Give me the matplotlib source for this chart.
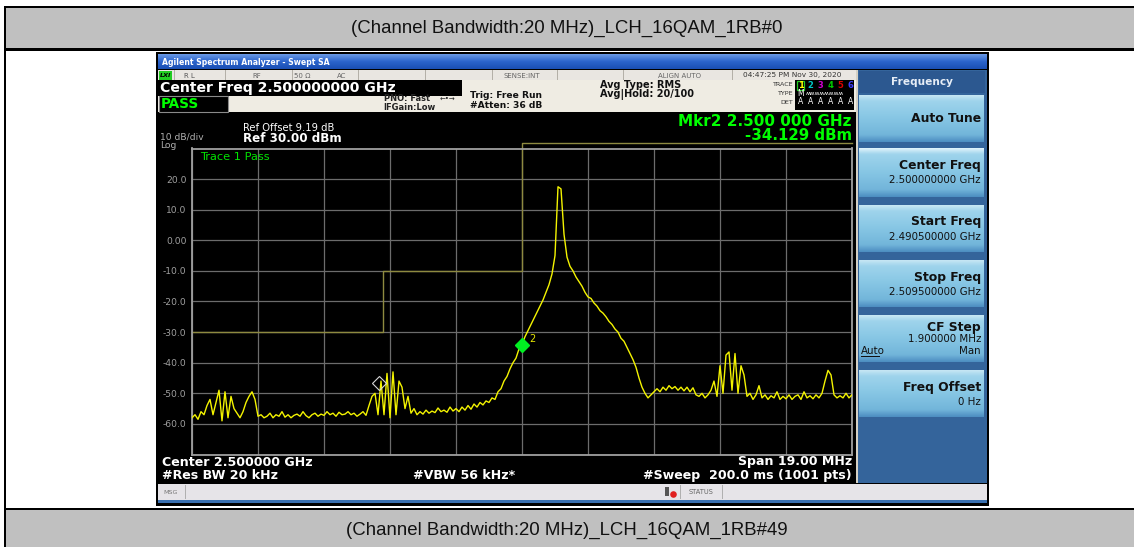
import numpy as np
import matplotlib
matplotlib.use('Agg')
import matplotlib.pyplot as plt
from matplotlib.patches import Rectangle, Circle

# ---------------- data ----------------
start_ghz = 2.4905
stop_ghz = 2.5095
y_tick_values = [30, 20, 10, 0, -10, -20, -30, -40, -50, -60, -70]
y_tick_labels = ['', '20.0', '10.0', '0.00', '-10.0', '-20.0', '-30.0', '-40.0', '-50.0', '-60.0', '']

trace_dbm = [
    -58, -57, -58.5, -56, -57, -54, -52, -57, -53, -49, -59, -49.5, -58, -51, -55,
    -56.5, -58, -56, -53, -51, -49.5, -52, -57.5,
    -57, -58, -57.5, -56.5, -58, -57, -57.5, -56, -57.8, -57, -58, -57.2, -56.8, -57.5, -56,
    -57.3, -58, -57, -56.5, -57.5, -56.8, -57.2, -56, -57, -56.5, -57.5, -56.2, -57, -56.8,
    -56, -57, -56.5, -57.5, -56.8, -56, -57.2,
    -54, -51, -50, -57, -46, -57, -43.5, -58, -43, -57, -46, -48, -55, -51,
    -56.5, -55, -57, -56, -56.8, -55.5, -56.5, -55.8, -56.3, -54.8, -56, -55.5, -56.2, -54.5,
    -55.8, -55, -56, -54.5, -55.5, -54, -55.2, -53.5, -54.5, -53, -53.8, -52.5, -53, -51.5,
    -52, -49.5, -48.5, -46, -44.5, -42, -40,
    -38.5, -35.5, -34.129, -31.5, -29.5, -27.5, -25.5, -23.5, -21.5, -19.5, -17, -14.5, -11,
    -5, 17.5, 16.8, 2, -5.5, -8.5, -10, -12, -13.5, -15,
    -17, -18.5, -19, -20.5, -21.5, -23, -23.8, -25, -26.5, -27.5, -29, -30, -32, -33, -35,
    -37, -39, -41.5, -45, -48, -50, -51.5,
    -50.5, -49.5, -48.5, -49.5, -48, -49, -47.5, -48.5, -47.8, -49, -48, -49.2, -48, -49.5,
    -48.2, -50.5, -51, -50, -51.5, -50.5,
    -49, -46, -51, -41, -50, -37.5, -36.5, -49, -37, -50, -41, -44, -51,
    -50, -52, -50.5, -47.5, -51.5, -50.5, -52, -50.8, -51.5, -49.5, -52, -51, -51.8, -50.5,
    -52, -51, -50.5, -52, -49.5, -51.5, -50.8, -51.8, -50.5, -51.5, -50, -46, -42.5, -44,
    -50.5, -51.5, -50.8, -51.5, -50, -51.5, -50.5,
]

limit_freq = [2.4905, 2.4960, 2.4960, 2.5000, 2.5000, 2.5095]
limit_dbm = [-30, -30, -10, -10, 31.7, 31.7]

mkr1_freq, mkr1_dbm = 2.49588, -46.5
mkr2_freq, mkr2_dbm = 2.5000, -34.129

header_top = "(Channel Bandwidth:20 MHz)_LCH_16QAM_1RB#0"
header_bottom = "(Channel Bandwidth:20 MHz)_LCH_16QAM_1RB#49"

softkeys = [
    ("Auto Tune", None),
    ("Center Freq", "2.500000000 GHz"),
    ("Start Freq", "2.490500000 GHz"),
    ("Stop Freq", "2.509500000 GHz"),
    ("CF Step", "1.900000 MHz"),
    ("Freq Offset", "0 Hz"),
]

# ---------------- figure ----------------
plt.rcParams['font.family'] = ['DejaVu Sans']
W, H = 1134, 547
fig = plt.figure(figsize=(W / 100, H / 100), dpi=100)
fig.patch.set_facecolor('white')
bg = fig.add_axes([0, 0, 1, 1])
bg.set_xlim(0, W)
bg.set_ylim(H, 0)
bg.axis('off')


def rect(x0, y0, x1, y1, fc, ec='none', lw=0, z=1):
    bg.add_patch(Rectangle((x0, y0), x1 - x0, y1 - y0, facecolor=fc,
                           edgecolor=ec, linewidth=lw, zorder=z))


def txt(x, y, s, size, color='black', ha='left', weight='normal',
        family='DejaVu Sans', va='center', top=False, **kw):
    if top:
        fig.text(x, y, s, fontsize=size, color=color, ha=ha, va=va,
                 fontweight=weight, family=family, transform=bg.transData,
                 zorder=10, **kw)
    else:
        bg.text(x, y, s, fontsize=size, color=color, ha=ha, va=va,
                fontweight=weight, family=family, zorder=5, **kw)


def hexrgb(c):
    c = c.lstrip('#')
    return [int(c[i:i + 2], 16) / 255 for i in (0, 2, 4)]


def grad(x0, y0, x1, y1, stops, z=2):
    pos = [p for p, _ in stops]
    cols = np.array([hexrgb(c) for _, c in stops])
    t = np.linspace(0, 1, 64)
    arr = np.stack([np.interp(t, pos, cols[:, k]) for k in range(3)], axis=1)
    arr = arr[:, None, :]
    bg.imshow(arr, extent=(x0, x1, y1, y0), aspect='auto',
              interpolation='bilinear', zorder=z)


# document table
rect(4, 6, 1134, 8, 'black')
rect(6, 8, 1134, 48, '#c0c0c0')
rect(4, 48, 1134, 50.5, 'black')
rect(4, 507.5, 1134, 510, 'black')
rect(6, 510, 1134, 547, '#c0c0c0')
rect(4, 6, 6.2, 547, 'black')
txt(567, 28.5, header_top, 13.4, '#111111', ha='center', family='Liberation Sans')
txt(567, 530, header_bottom, 13.4, '#111111', ha='center', family='Liberation Sans')

# screenshot frame
rect(156, 52, 989, 506, 'black')
grad(158, 55, 987, 69.5, [(0, '#6a9ae6'), (0.5, '#2b64cc'), (1, '#1a4fb4')])
txt(162, 62.5, 'Agilent Spectrum Analyzer - Swept SA', 5.6, 'white', weight='bold')

# status row
rect(158, 70, 857, 80, '#e9e6e1')
for sx in [174, 225, 292, 358, 425, 492, 557, 623, 732]:
    rect(sx, 70, sx + 0.8, 80, '#b4b0a8', z=3)
rect(159, 71, 172, 79.5, '#22cc22', z=3)
txt(165.5, 75.3, 'LXI', 4.6, 'black', ha='center', weight='bold', style='italic')
txt(184, 75.5, 'R L', 5, '#555555')
txt(257, 75.5, 'RF', 5, '#666666', ha='center')
txt(302, 75.5, '50 \u03a9', 5, '#666666', ha='center')
txt(342, 75.5, 'AC', 5, '#666666', ha='center')
txt(522, 75.5, 'SENSE:INT', 5, '#666666', ha='center')
txt(680, 75.5, 'ALIGN AUTO', 5, '#666666', ha='center')
txt(792, 75.5, '04:47:25 PM Nov 30, 2020', 5.3, '#333333', ha='center')

# info rows
rect(158, 80, 857, 112, '#efece3')
rect(158, 80, 462, 95.5, 'black', z=3)
txt(160.5, 88, 'Center Freq 2.500000000 GHz', 10.1, 'white', weight='bold')
rect(158.5, 96, 228, 111.5, 'black', ec='#8a8a8a', lw=0.8, z=3)
txt(161, 104.3, 'PASS', 9.8, '#00ff00', weight='bold')
txt(430, 98.8, 'PNO: Fast', 6, '#222222', ha='right', weight='bold')
txt(447, 98.8, '\u2190\u2022\u2192', 5, '#222222', ha='center')
txt(435, 107.5, 'IFGain:Low', 6, '#222222', ha='right', weight='bold')
txt(470, 96, 'Trig: Free Run', 6.6, '#111111', weight='bold')
txt(470, 106, '#Atten: 36 dB', 6.6, '#111111', weight='bold')
txt(600, 85, 'Avg Type: RMS', 7, '#111111', weight='bold')
txt(600, 94, 'Avg|Hold: 20/100', 7, '#111111', weight='bold')
txt(793, 85, 'TRACE', 4.6, '#333333', ha='right')
txt(793, 93.5, 'TYPE', 4.6, '#333333', ha='right')
txt(793, 102, 'DET', 4.6, '#333333', ha='right')
rect(795, 80, 854, 110, 'black', z=3)
trace_cols = ['#ffff00', '#00c8c8', '#d000d0', '#00c800', '#e00000', '#3c3cff']
for k, c in enumerate(trace_cols):
    xx = 800.5 + k * 10
    if k == 0:
        rect(xx - 3.5, 80.8, xx + 3.5, 89.5, 'none', ec='#22cc22', lw=0.9, z=4)
    txt(xx, 85.2, str(k + 1), 6, c, ha='center', weight='bold')
    txt(xx, 102, 'A', 5.5, 'white', ha='center')
txt(797, 93.5, 'M', 5.5, 'white')
txt(806, 93.3, '\u028d\u028d\u028d\u028d\u028d\u028d\u028d\u028d', 4.2, 'white')

# display area labels
txt(160, 137.5, '10 dB/div', 6.6, '#b0b0b0')
txt(160, 145.5, 'Log', 6.6, '#b0b0b0')
txt(243, 128, 'Ref Offset 9.19 dB', 7.2, 'white')
txt(243, 139, 'Ref 30.00 dBm', 8.6, 'white', weight='bold')
txt(852, 121.5, 'Mkr2 2.500 000 GHz', 11.0, '#00ff00', ha='right', weight='bold')
txt(852, 136, '-34.129 dBm', 10.8, '#00ff00', ha='right', weight='bold')
txt(200, 156.5, 'Trace 1 Pass', 8.2, '#00e400', top=True)

txt(162, 462, 'Center 2.500000 GHz', 9.1, 'white', weight='bold')
txt(162, 475.5, '#Res BW 20 kHz', 9.1, 'white', weight='bold')
txt(413, 475.5, '#VBW 56 kHz*', 9.1, 'white', weight='bold')
txt(852, 462, 'Span 19.00 MHz', 9.1, 'white', ha='right', weight='bold')
txt(852, 475.5, '#Sweep  200.0 ms (1001 pts)', 9.1, 'white', ha='right', weight='bold')

# right softkey panel
rect(857, 70, 987, 483, '#34649b')
rect(856, 70, 858, 483, '#d4d0c4', z=3)
rect(859, 71, 985, 93, '#2c5890', z=3)
txt(922, 82, 'Frequency', 7.6, '#e6edf6', ha='center', weight='bold')
key_y = [(95, 142), (148, 197), (205, 252), (260, 307), (315, 362), (370, 417)]
for i, ((name, val), (y0, y1)) in enumerate(zip(softkeys, key_y)):
    top_col = '#e0f3fb' if i == 1 else '#c6e6f4'
    grad(859, y0, 984, y1, [(0, top_col), (0.12, '#9fd4ec'), (0.5, '#86c6e4'),
                            (0.85, '#72b5da'), (1, '#4d8ec2')], z=3)
    if val is None:
        txt(981, (y0 + y1) / 2, name, 8.9, '#111111', ha='right', weight='bold')
    elif name == 'CF Step':
        txt(981, y0 + 12.5, name, 8.9, '#111111', ha='right', weight='bold')
        txt(981, y0 + 24.5, val, 7.4, '#111111', ha='right')
        txt(861, y0 + 36, 'Auto', 7.4, '#111111', ha='left')
        rect(861, y0 + 41, 880, y0 + 41.8, '#111111', z=6)
        txt(981, y0 + 36, 'Man', 7.4, '#111111', ha='right')
    else:
        txt(981, y0 + 17, name, 8.9, '#111111', ha='right', weight='bold')
        txt(981, y0 + 32, val, 7.4, '#111111', ha='right')

# message bar
rect(158, 484, 987, 500, '#e6e4e8')
rect(185, 485, 185.8, 499, '#b0b0b0', z=3)
txt(163, 492, 'MSG', 4.6, '#777777')
rect(680, 485, 680.8, 499, '#b0b0b0', z=3)
rect(722, 485, 722.8, 499, '#b0b0b0', z=3)
rect(665, 487, 668.5, 496, '#555555', z=3)
bg.add_patch(Circle((673.5, 494.5), 3.3, facecolor='#e02020', edgecolor='none', zorder=4))
txt(701, 492, 'STATUS', 4.8, '#666666', ha='center')
rect(158, 500, 987, 502.5, '#3a70b0')

bg.set_xlim(0, W)
bg.set_ylim(H, 0)

# ---------------- graticule ----------------
ax = fig.add_axes([192 / W, 1 - 454.5 / H, 660 / W, 306 / H])
ax.set_facecolor('none')
ax.set_xlim(start_ghz, stop_ghz)
ax.set_ylim(-70, 30)
ax.set_xticks(np.linspace(start_ghz, stop_ghz, 11))
ax.set_xticklabels([])
ax.set_yticks(y_tick_values)
ax.set_yticklabels(y_tick_labels, color='#a0a0a0', fontsize=6.6)
ax.tick_params(length=0, pad=4)
ax.grid(True, color='#6c6c6c', linewidth=0.9)
for sp in ax.spines.values():
    sp.set_color('#a0a0a0')
    sp.set_linewidth(1.3)

freqs = np.linspace(start_ghz, stop_ghz, len(trace_dbm))
ax.plot(limit_freq, limit_dbm, color='#8e8a40', linewidth=1.0, clip_on=False, zorder=2)
ax.plot(freqs, trace_dbm, color='#f4f400', linewidth=1.0, zorder=3)
ax.plot([mkr1_freq], [mkr1_dbm], marker='D', markersize=7, markerfacecolor='none',
        markeredgecolor='#d8d8d8', markeredgewidth=0.8, linestyle='none', zorder=4)
ax.plot([mkr2_freq], [mkr2_dbm], marker='D', markersize=7, color='#00ee22',
        linestyle='none', zorder=4)
ax.annotate('2', (mkr2_freq, mkr2_dbm), xytext=(5, 2), textcoords='offset points',
            color='#e6e600', fontsize=7)

fig.savefig('out.png', dpi=100, facecolor='white')
